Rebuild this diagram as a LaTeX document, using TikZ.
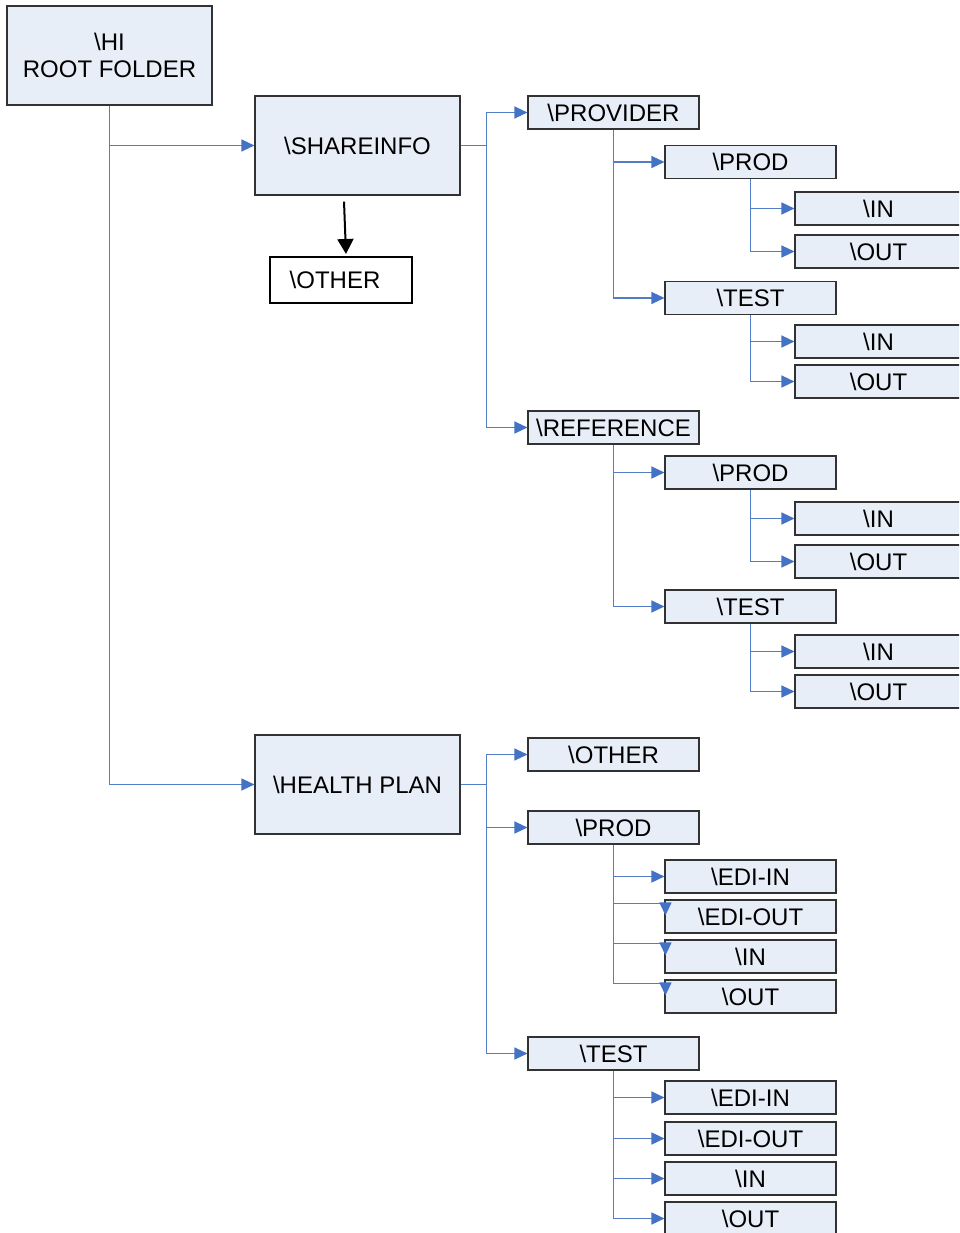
\documentclass[tikz,border=0pt]{standalone}
\usepackage{fontspec}
\setmainfont{Liberation Sans}
\usetikzlibrary{arrows.meta}
\definecolor{boxfill}{RGB}{232,238,248}
\definecolor{boxline}{RGB}{50,50,50}
\definecolor{linkblue}{RGB}{84,125,200}
\definecolor{headblue}{RGB}{68,114,196}
\tikzset{
  fbox/.style={draw=boxline, fill=boxfill, line width=1.1pt, inner sep=0pt,
    font=\fontsize{24}{28}\selectfont, align=center},
  bigbox/.style={fbox, minimum width=205pt, minimum height=99pt},
  midbox/.style={fbox, minimum width=171pt, minimum height=33pt},
  endbox/.style={fbox, minimum width=167pt, minimum height=33pt},
  conn/.style={draw=linkblue, line width=1.2pt,
    -{Triangle[length=13pt,width=12pt,fill=headblue,color=headblue]}},
}
\newcommand{\bs}{\textbackslash}
\begin{document}
\begin{tikzpicture}[x=1pt,y=-1pt]
\clip (0,0) rectangle (959,1233);
\fill[white] (0,0) rectangle (959,1233);

% level 0-1
\node[bigbox] (root) at (109.5,55.5) {\bs HI\\[-1pt]ROOT FOLDER};
\node[bigbox] (share) at (357.5,145.5) {\bs SHAREINFO};
\node[bigbox] (hp) at (357.5,784.5) {\bs HEALTH PLAN};
\node[draw=black, fill=white, line width=2pt, minimum width=142pt, minimum height=46pt,
  inner sep=0pt, font=\fontsize{24}{28}\selectfont] (oth) at (341,280) {\hspace*{-12pt}\bs OTHER};

% level 2
\node[midbox] (prov) at (613.5,112.5) {\bs PROVIDER};
\node[midbox] (ref) at (613.5,427.5) {\bs REFERENCE};
\node[midbox] (hpoth) at (613.5,754.5) {\bs OTHER};
\node[midbox] (hpprod) at (613.5,827.5) {\bs PROD};
\node[midbox] (hptest) at (613.5,1053.5) {\bs TEST};

% level 3
\node[midbox] (pprod) at (750.5,162) {\bs PROD};
\node[midbox] (ptest) at (750.5,298) {\bs TEST};
\node[midbox] (rprod) at (750.5,472.5) {\bs PROD};
\node[midbox] (rtest) at (750.5,606.5) {\bs TEST};
\node[midbox] (hpei) at (750.5,876.5) {\bs EDI-IN};
\node[midbox] (hpeo) at (750.5,916.5) {\bs EDI-OUT};
\node[midbox] (hpin) at (750.5,956.5) {\bs IN};
\node[midbox] (hpout) at (750.5,996.5) {\bs OUT};
\node[midbox] (htei) at (750.5,1097.5) {\bs EDI-IN};
\node[midbox] (hteo) at (750.5,1138.5) {\bs EDI-OUT};
\node[midbox] (htin) at (750.5,1178.5) {\bs IN};
\node[midbox] (htout) at (750.5,1218.5) {\bs OUT};

% level 4
\node[endbox] (ppin) at (878.5,208.5) {\bs IN};
\node[endbox] (ppout) at (878.5,251.5) {\bs OUT};
\node[endbox] (ptin) at (878.5,341.5) {\bs IN};
\node[endbox] (ptout) at (878.5,381.5) {\bs OUT};
\node[endbox] (rpin) at (878.5,518.5) {\bs IN};
\node[endbox] (rpout) at (878.5,561.5) {\bs OUT};
\node[endbox] (rtin) at (878.5,651.5) {\bs IN};
\node[endbox] (rtout) at (878.5,691.5) {\bs OUT};

% connectors
\draw[conn] (root.south) |- (share.west);
\draw[conn] (root.south) |- (hp.west);
\draw[-{Triangle[length=15pt,width=16pt]}, line width=2pt, black]
  ([shift={(-13.5,6)}]share.south) -- ([shift={(5,-2)}]oth.north);

\draw[conn] (share.east) -- ++(26,0) |- (prov.west);
\draw[conn] (share.east) -- ++(26,0) |- (ref.west);
\draw[conn] (prov.south) |- (pprod.west);
\draw[conn] (prov.south) |- (ptest.west);
\draw[conn] (pprod.south) |- (ppin.west);
\draw[conn] (pprod.south) |- (ppout.west);
\draw[conn] (ptest.south) |- (ptin.west);
\draw[conn] (ptest.south) |- (ptout.west);
\draw[conn] (ref.south) |- (rprod.west);
\draw[conn] (ref.south) |- (rtest.west);
\draw[conn] (rprod.south) |- (rpin.west);
\draw[conn] (rprod.south) |- (rpout.west);
\draw[conn] (rtest.south) |- (rtin.west);
\draw[conn] (rtest.south) |- (rtout.west);

\draw[conn] (hp.east) -- ++(26,0) |- (hpoth.west);
\draw[conn] (hp.east) -- ++(26,0) |- (hpprod.west);
\draw[conn] (hp.east) -- ++(26,0) |- (hptest.west);

\draw[conn] (hpprod.south) |- (hpei.west);
\draw[conn] (hpprod.south) |- ([shift={(1,4)}]hpeo.north west) -- ([shift={(1,16)}]hpeo.north west);
\draw[conn] (hpprod.south) |- ([shift={(1,4)}]hpin.north west) -- ([shift={(1,16)}]hpin.north west);
\draw[conn] (hpprod.south) |- ([shift={(1,4)}]hpout.north west) -- ([shift={(1,16)}]hpout.north west);

\draw[conn] (hptest.south) |- (htei.west);
\draw[conn] (hptest.south) |- (hteo.west);
\draw[conn] (hptest.south) |- (htin.west);
\draw[conn] (hptest.south) |- (htout.west);
\end{tikzpicture}
\end{document}
